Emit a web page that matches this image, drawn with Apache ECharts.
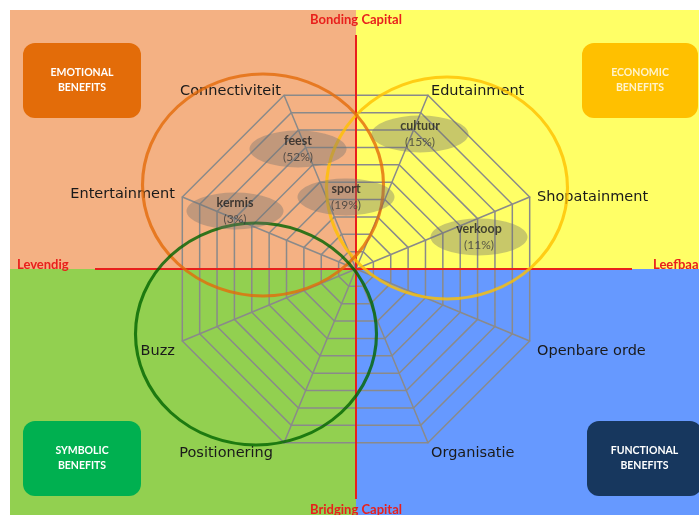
<!DOCTYPE html>
<html>
<head>
<meta charset="utf-8">
<script src="https://cdn.jsdelivr.net/npm/echarts@6/dist/echarts.min.js"></script>
<style>
  html, body { margin: 0; padding: 0; background: #fff; }
  #main { width: 699px; height: 515px; }
</style>
</head>
<body>
<div id="main"></div>
<script>
// radar axes, echarts runs them counter-clockwise from top-left
const indicators = ['Connectiviteit', 'Entertainment', 'Buzz', 'Positionering',
  'Organisatie', 'Openbare orde', 'Shopatainment', 'Edutainment'];
const ringCount = 10;

// activities (gray ellipses), position in the Levendig/Leefbaar x Bridging/Bonding plane
const activities = ['feest', 'cultuur', 'sport', 'kermis', 'verkoop'];
const shares = [52, 15, 19, 3, 11];
const activityX = [-58, 64, -10, -121, 123];
const activityY = [120, 135, 72, 58, 32];

// benefit circles
const circleNames = ['economic', 'emotional', 'symbolic'];
const circleX = [91, -93, -100];
const circleY = [81, 84, -65];
const circleColors = ['#ffc000', '#e46c0a', '#006400'];

// quadrant plane
const xRange = [-346, 343];
const yRange = [-246, 259];
const hLine = [-261, 276];
const vLine = [-230, 234];

const quadColors = { tl: '#f4b183', tr: '#ffff66', bl: '#92d050', br: '#6699ff' };

const chart = echarts.init(document.getElementById('main'));

const ellipseData = activities.map((a, i) => ({
  name: a,
  value: [activityX[i], activityY[i]],
  label: { formatter: '{b|' + a + '}\n{p|(' + shares[i] + '%)}' }
}));

const circleData = circleNames.map((c, i) => ({
  name: c,
  value: [circleX[i], circleY[i]],
  itemStyle: { color: 'rgba(0,0,0,0)', borderColor: circleColors[i], borderWidth: 3 }
}));

function box(x, y, w, color, lines, textColor) {
  return {
    type: 'group', x: x, y: y, z: 10,
    children: [
      { type: 'rect', z: 10, shape: { x: 0, y: 0, width: w, height: 75, r: 12 }, style: { fill: color } },
      { type: 'text', z: 11, x: w / 2, y: 37.5, style: {
        text: lines, fill: textColor, font: 'bold 10.5px Lato', align: 'center',
        verticalAlign: 'middle', lineHeight: 15 } }
    ]
  };
}

function redText(x, y, text, align) {
  return { type: 'text', x: x, y: y, z: 10, style: {
    text: text, fill: '#e8201c', font: 'bold 13px Lato', align: align, verticalAlign: 'middle' } };
}

// small nudges so the axis names sit like in the original slide
const nameStyle = { fontSize: 14.5, fontFamily: 'DejaVu Sans', color: '#1a1a1a' };
function nameKey(n) {
  if (n === 'Buzz' || n === 'Openbare orde') return 'low';
  if (n === 'Positionering') return 'pos';
  if (n === 'Entertainment') return 'mid';
  return 'n';
}

const option = {
  animation: false,
  backgroundColor: '#ffffff',
  grid: { left: 10, top: 10, right: 0, bottom: 0 },
  xAxis: { type: 'value', min: xRange[0], max: xRange[1], show: false },
  yAxis: { type: 'value', min: yRange[0], max: yRange[1], show: false },
  radar: {
    z: 2,
    center: [356, 269],
    radius: 188,
    startAngle: 112.5,
    shape: 'polygon',
    splitNumber: ringCount,
    nameGap: 8,
    axisName: {
      color: '#1a1a1a', fontSize: 14.5, fontFamily: 'DejaVu Sans',
      formatter: n => '{' + nameKey(n) + '|' + n + '}',
      rich: {
        n: Object.assign({ padding: [6, 0, 0, 0] }, nameStyle),
        mid: Object.assign({ padding: [0, 0, 0, 0] }, nameStyle),
        pos: Object.assign({ padding: [6, 8, 0, 0] }, nameStyle),
        low: Object.assign({ padding: [14, 0, 0, 0] }, nameStyle)
      }
    },
    indicator: indicators.map(n => ({ name: n, max: ringCount })),
    axisLine: { lineStyle: { color: '#8a8a8a', width: 1.5 } },
    splitLine: { lineStyle: { color: '#8a8a8a', width: 1.5 } },
    splitArea: { show: false },
    axisTick: { show: false },
    axisLabel: { show: false }
  },
  series: [
    {
      type: 'scatter',
      name: 'plane',
      data: [],
      silent: true,
      markArea: {
        z: 1,
        silent: true,
        data: [
          [{ xAxis: xRange[0], yAxis: 0, itemStyle: { color: quadColors.tl } }, { xAxis: 0, yAxis: yRange[1] }],
          [{ xAxis: 0, yAxis: 0, itemStyle: { color: quadColors.tr } }, { xAxis: xRange[1], yAxis: yRange[1] }],
          [{ xAxis: xRange[0], yAxis: yRange[0], itemStyle: { color: quadColors.bl } }, { xAxis: 0, yAxis: 0 }],
          [{ xAxis: 0, yAxis: yRange[0], itemStyle: { color: quadColors.br } }, { xAxis: xRange[1], yAxis: 0 }]
        ]
      },
      markLine: {
        z: 3,
        silent: true,
        symbol: 'none',
        label: { show: false },
        lineStyle: { color: '#e8201c', width: 2, type: 'solid' },
        data: [
          [{ coord: [hLine[0], 0] }, { coord: [hLine[1], 0] }],
          [{ coord: [0, vLine[0]] }, { coord: [0, vLine[1]] }]
        ]
      }
    },
    {
      type: 'scatter',
      name: 'circles',
      z: 4,
      silent: true,
      symbol: 'circle',
      symbolSize: [241, 222],
      data: circleData
    },
    {
      type: 'scatter',
      name: 'activities',
      z: 5,
      silent: true,
      symbol: 'circle',
      symbolSize: [97, 37],
      itemStyle: { color: 'rgba(112,112,112,0.48)' },
      label: {
        show: true,
        position: 'inside',
        lineHeight: 16,
        rich: {
          b: { fontFamily: 'Lato', fontWeight: 'bold', fontSize: 12.5, color: '#1f1f1f', lineHeight: 16 },
          p: { fontFamily: 'Lato', fontSize: 12, color: '#3a3a3a', lineHeight: 16 }
        }
      },
      data: ellipseData
    }
  ],
  graphic: [
    box(23, 43, 118, '#e36c09', 'EMOTIONAL\nBENEFITS', '#ffffff'),
    box(582, 43, 116, '#ffc000', 'ECONOMIC\nBENEFITS', '#fff3cc'),
    box(23, 421, 118, '#00b050', 'SYMBOLIC\nBENEFITS', '#ffffff'),
    box(587, 421, 115, '#17375e', 'FUNCTIONAL\nBENEFITS', '#ffffff'),
    redText(356, 20, 'Bonding Capital', 'center'),
    redText(356, 510, 'Bridging Capital', 'center'),
    redText(17, 265, 'Levendig', 'left'),
    redText(653, 265, 'Leefbaar', 'left')
  ]
};

chart.setOption(option);
</script>
</body>
</html>
